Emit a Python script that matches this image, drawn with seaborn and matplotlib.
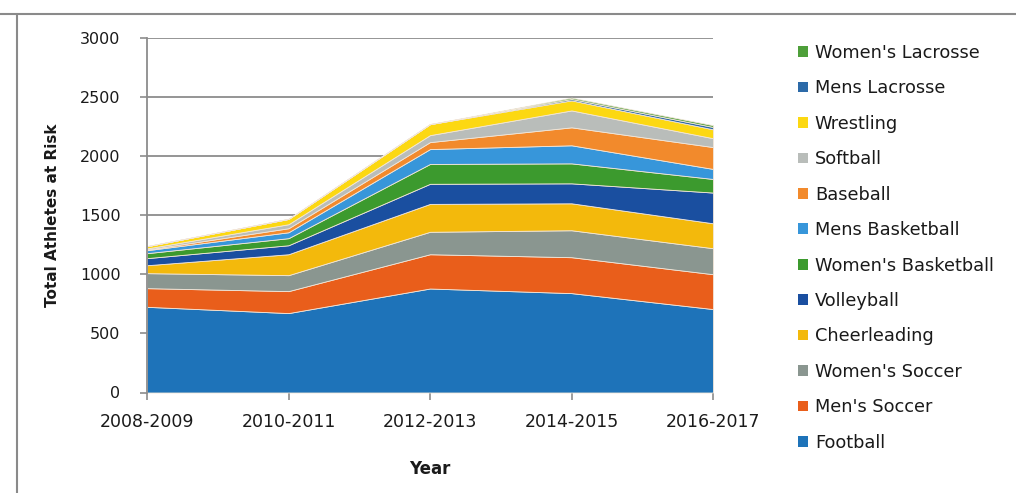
import matplotlib
matplotlib.use("Agg")
import matplotlib.pyplot as plt
from matplotlib.lines import Line2D
from matplotlib.patches import Patch
import seaborn as sns
import pandas as pd

# Athletes at risk per sport, by season
seasons = ["2008-2009", "2010-2011", "2012-2013", "2014-2015", "2016-2017"]
football = [725, 672, 880, 841, 706]
mens_soccer = [158, 186, 290, 304, 295]
womens_soccer = [127, 135, 190, 228, 220]
cheerleading = [67, 177, 236, 228, 211]
volleyball = [60, 76, 170, 169, 260]
womens_basketball = [42, 60, 168, 169, 115]
mens_basketball = [25, 50, 126, 153, 85]
baseball = [5, 34, 59, 152, 185]
softball = [10, 34, 59, 143, 75]
wrestling = [19, 45, 93, 85, 75]
mens_lacrosse = [0, 0, 0, 12, 20]
womens_lacrosse = [0, 0, 0, 11, 15]

sports = ["Football", "Men's Soccer", "Women's Soccer", "Cheerleading",
          "Volleyball", "Women's Basketball", "Mens Basketball", "Baseball",
          "Softball", "Wrestling", "Mens Lacrosse", "Women's Lacrosse"]
series = [football, mens_soccer, womens_soccer, cheerleading, volleyball,
          womens_basketball, mens_basketball, baseball, softball, wrestling,
          mens_lacrosse, womens_lacrosse]
colors = ["#1E73B9", "#E95E1B", "#8A9690", "#F3B90C", "#1A4FA0", "#3C9A2E",
          "#3796DA", "#F28A2C", "#B9BDBA", "#FCD812", "#2C6AA8", "#4E9F3A"]

df = pd.DataFrame({name: vals for name, vals in zip(sports, series)},
                  index=seasons)

sns.set_theme(style="white")
plt.rcParams["font.family"] = ["DejaVu Sans"]
text_color = "#1a1a1a"

fig = plt.figure(figsize=(10.16, 4.93), dpi=100)
ax = fig.add_axes([147 / 1016, (493 - 392.5) / 493, 566 / 1016, 354.5 / 493])

x = list(range(len(seasons)))
ax.stackplot(x, *[df[s].values for s in sports], colors=colors,
             edgecolor="#f2e6d8", linewidth=0.6, zorder=2)

ax.set_xlim(0, len(seasons) - 1)
ax.set_ylim(0, 3000)
ax.set_yticks(range(0, 3001, 500))
ax.set_xticks(x)
ax.set_xticklabels(seasons)

ax.yaxis.grid(True, color="#8c8c8c", linewidth=1.3, zorder=0)
ax.xaxis.grid(False)
ax.set_axisbelow(True)
for side in ["top", "right", "bottom"]:
    ax.spines[side].set_visible(False)
ax.spines["left"].set_color("#8c8c8c")
ax.spines["left"].set_linewidth(1.3)

ax.tick_params(axis="y", which="both", left=True, length=5, width=1.2,
               color="#8c8c8c", labelsize=11.5, labelcolor=text_color, pad=14)
ax.tick_params(axis="x", which="both", bottom=True, length=5, width=1.2,
               color="#8c8c8c", labelsize=12.5, labelcolor=text_color, pad=10)

ax.set_ylabel("Total Athletes at Risk", fontsize=11, fontweight="bold",
              color=text_color)
ax.yaxis.set_label_coords(-0.154, 0.5)
ax.set_xlabel("Year", fontsize=12, fontweight="bold", color=text_color)
ax.xaxis.set_label_coords(0.5, -0.19)

handles = [Patch(facecolor=c, edgecolor="none") for c in colors]
leg = fig.legend(handles[::-1], sports[::-1], loc="upper left",
                 bbox_to_anchor=(798 / 1016, (493 - 44) / 493),
                 frameon=False, fontsize=12.8, labelspacing=0.98,
                 handlelength=0.55, handleheight=0.55, handletextpad=0.4,
                 borderpad=0, borderaxespad=0)
for t in leg.get_texts():
    t.set_color(text_color)

# Chart area border (top and left edges)
fig.add_artist(Line2D([0, 1], [1 - 14 / 493, 1 - 14 / 493],
                      transform=fig.transFigure, color="#8a8a8a", lw=1.5))
fig.add_artist(Line2D([17 / 1016, 17 / 1016], [0, 1 - 14 / 493],
                      transform=fig.transFigure, color="#8a8a8a", lw=1.5))

fig.savefig("out.png", dpi=100)
